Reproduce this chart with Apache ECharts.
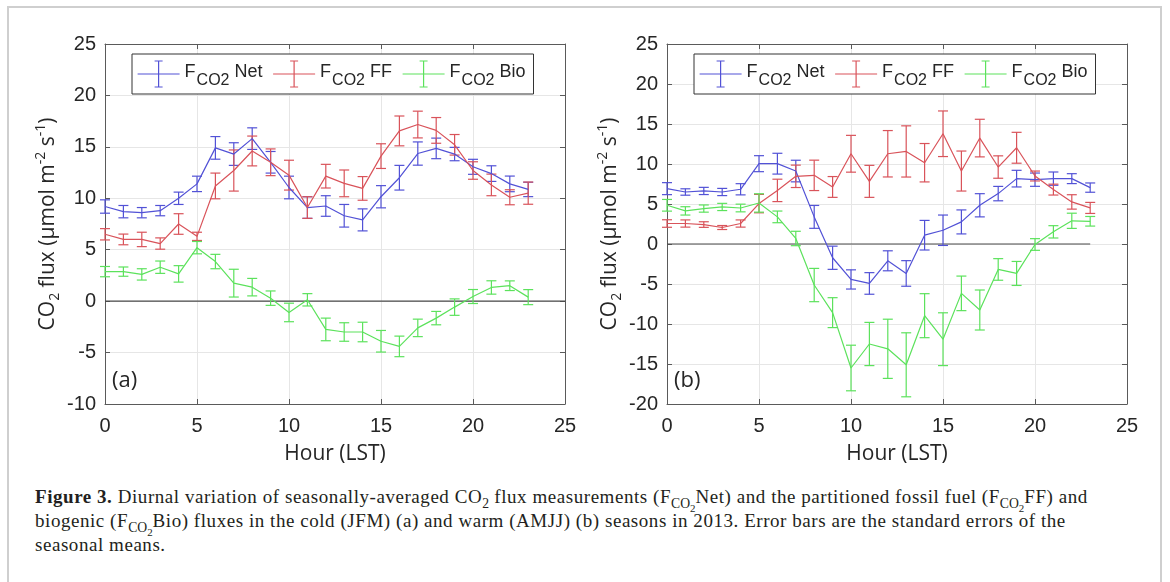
<!DOCTYPE html>
<html>
<head>
<meta charset="utf-8">
<script src="https://cdn.jsdelivr.net/npm/echarts@6/dist/echarts.min.js"></script>
<style>
  html, body { margin: 0; padding: 0; background: #fff; overflow: hidden; }
  #frame { position: absolute; left: 7px; top: 6px; width: 1151px; height: 620px; border: 2px solid #cfcfcf; }
  #chart { position: absolute; left: 0; top: 0; width: 1170px; height: 470px; }
  #caption { position: absolute; left: 35px; top: 485px; width: 1125px; font-family: "Liberation Serif", serif;
    font-size: 19px; letter-spacing: 0.55px; line-height: 24px; color: #231f20; white-space: nowrap; }
  #caption sub { font-size: 72%; line-height: 0; letter-spacing: 0; }
  #caption sub sub { font-size: 80%; }
</style>
</head>
<body>
<div id="frame"></div>
<div id="chart"></div>
<div id="caption"><b>Figure 3.</b> Diurnal variation of seasonally-averaged CO<sub>2</sub> flux measurements (F<sub>CO<sub>2</sub></sub>Net) and the partitioned fossil fuel (F<sub>CO<sub>2</sub></sub>FF) and<br>biogenic (F<sub>CO<sub>2</sub></sub>Bio) fluxes in the cold (JFM) (a) and warm (AMJJ) (b) seasons in 2013. Error bars are the standard errors of the<br>seasonal means.</div>
<script>
const hours = [0, 1, 2, 3, 4, 5, 6, 7, 8, 9, 10, 11, 12, 13, 14, 15, 16, 17, 18, 19, 20, 21, 22, 23];
const seriesNames = ['Net', 'FF', 'Bio'];

// (a) cold season, JFM
const aNet = [9.2, 8.7, 8.6, 8.8, 10.0, 11.4, 14.9, 14.3, 15.8, 13.5, 11.05, 9.1, 9.25, 8.3, 7.9, 10.15, 12.0, 14.35, 14.85, 14.3, 13.06, 12.4, 11.4, 10.86];
const aNetErr = [0.65, 0.6, 0.5, 0.5, 0.6, 0.75, 1.1, 1.1, 1.05, 1.05, 1.1, 1.05, 1.0, 1.1, 1.07, 1.08, 1.2, 1.13, 1.0, 0.65, 0.73, 0.76, 0.76, 0.7];
const aFF = [6.5, 6.0, 6.0, 5.6, 7.5, 6.3, 11.2, 12.7, 14.6, 13.5, 12.25, 9.1, 12.15, 11.45, 10.96, 14.1, 16.55, 17.17, 16.6, 15.2, 12.7, 11.3, 10.1, 10.5];
const aFFErr = [0.55, 0.52, 0.7, 0.55, 1.0, 0.4, 1.25, 2.0, 1.45, 1.3, 1.45, 1.05, 1.15, 1.3, 1.15, 1.2, 1.45, 1.3, 1.25, 1.0, 0.85, 1.05, 0.73, 1.08];
const aBio = [2.87, 2.87, 2.6, 3.3, 2.65, 5.2, 3.85, 1.75, 1.36, 0.29, -1.1, 0.13, -2.75, -3.0, -3.0, -3.9, -4.4, -2.6, -1.65, -0.58, 0.45, 1.33, 1.5, 0.39];
const aBioErr = [0.5, 0.45, 0.55, 0.6, 0.8, 0.6, 0.7, 1.35, 0.85, 0.7, 0.9, 0.6, 1.1, 0.9, 0.95, 1.05, 1.0, 0.85, 0.65, 0.8, 0.68, 0.65, 0.47, 0.73];

// (b) warm season, AMJJ
const bNet = [6.92, 6.5, 6.63, 6.5, 6.84, 10.04, 10.04, 9.12, 3.39, -1.72, -4.43, -4.93, -2.1, -3.68, 1.1, 1.72, 2.76, 4.84, 6.3, 8.17, 8.04, 8.17, 8.17, 7.05];
const bNetErr = [0.75, 0.4, 0.45, 0.45, 0.7, 1.0, 1.3, 1.35, 1.43, 1.45, 1.2, 1.35, 1.25, 1.6, 1.85, 1.9, 1.5, 1.45, 0.9, 1.04, 0.83, 0.83, 0.62, 0.58];
const bFF = [2.56, 2.56, 2.43, 2.06, 2.56, 5.05, 6.7, 8.46, 8.58, 7.13, 11.28, 7.83, 11.28, 11.57, 10.16, 13.78, 9.12, 13.24, 9.62, 12.03, 8.5, 6.8, 5.26, 4.51];
const bFFErr = [0.47, 0.45, 0.35, 0.25, 0.45, 1.15, 1.4, 1.4, 1.9, 1.3, 2.3, 2.0, 2.9, 3.2, 2.4, 2.85, 2.5, 2.35, 1.4, 1.93, 0.62, 0.68, 0.9, 0.69];
const bBio = [4.84, 4.14, 4.43, 4.63, 4.5, 5.13, 3.39, 0.69, -5.13, -8.58, -15.5, -12.5, -13.1, -15.1, -8.96, -11.9, -6.17, -8.25, -3.18, -3.68, -0.06, 1.52, 2.9, 2.84];
const bBioErr = [0.73, 0.52, 0.45, 0.45, 0.48, 1.15, 0.73, 0.9, 2.08, 1.87, 2.85, 2.7, 3.7, 4.0, 2.75, 3.3, 2.16, 2.5, 1.35, 1.5, 0.73, 0.77, 0.95, 0.6];

// axis ranges and zero reference lines
const xTicks = [0, 25, 5];
const aYRange = [-10, 25];
const bYRange = [-20, 25];
const aZeroLine = [[0, 0], [25, 0]];
const bZeroLine = [[0, 0], [23, 0]];

const colors = { Net: '#5252d6', FF: '#d9535a', Bio: '#5ce25c' };
const axisColor = '#5a5a5a';
const textColor = '#262626';
const grids = [
  { left: 105, top: 44, width: 460, height: 360 },
  { left: 667, top: 44, width: 460, height: 360 }
];

var chart = echarts.init(document.getElementById('chart'), null, { renderer: 'canvas' });

function xAxes(gi) {
  return [
    {
      type: 'value', gridIndex: gi, min: xTicks[0], max: xTicks[1], interval: xTicks[2],
      name: 'Hour (LST)', nameLocation: 'middle', nameGap: 40,
      nameTextStyle: { fontFamily: 'Open Sans', fontSize: 21, color: textColor },
      axisLine: { onZero: false, lineStyle: { color: axisColor } },
      axisTick: { inside: true, length: 5, lineStyle: { color: axisColor } },
      axisLabel: { fontFamily: 'Liberation Sans', fontSize: 20, color: textColor, margin: 12 },
      splitLine: { show: true, lineStyle: { color: '#e6e6e6' } }
    },
    {
      type: 'value', gridIndex: gi, position: 'top', min: xTicks[0], max: xTicks[1], interval: xTicks[2],
      axisLine: { onZero: false, lineStyle: { color: axisColor } },
      axisTick: { inside: true, length: 5, lineStyle: { color: axisColor } },
      axisLabel: { show: false }, splitLine: { show: false }
    }
  ];
}

function yAxes(gi, range) {
  return [
    {
      type: 'value', gridIndex: gi, min: range[0], max: range[1], interval: 5,
      name: 'CO{s|2} flux (μmol m{p|-2} s{p|-1})', nameLocation: 'middle', nameGap: 43, nameRotate: 90,
      nameTextStyle: {
        fontFamily: 'Open Sans', fontSize: 21, color: textColor,
        rich: {
          s: { fontFamily: 'Open Sans', fontSize: 14, color: textColor, verticalAlign: 'bottom', padding: [14, 0, 0, 0] },
          p: { fontFamily: 'Open Sans', fontSize: 14, color: textColor, verticalAlign: 'top', padding: [0, 0, 10, 0] }
        }
      },
      axisLine: { show: true, onZero: false, lineStyle: { color: axisColor } },
      axisTick: { show: true, inside: true, length: 5, lineStyle: { color: axisColor } },
      axisLabel: { fontFamily: 'Liberation Sans', fontSize: 20, color: textColor, margin: 9 },
      splitLine: { show: true, lineStyle: { color: '#e6e6e6' } }
    },
    {
      type: 'value', gridIndex: gi, position: 'right', min: range[0], max: range[1], interval: 5,
      axisLine: { show: true, onZero: false, lineStyle: { color: axisColor } },
      axisTick: { show: true, inside: true, length: 5, lineStyle: { color: axisColor } },
      axisLabel: { show: false }, splitLine: { show: false }
    }
  ];
}

function lineSeries(name, gi, values) {
  return {
    type: 'line', name: name, xAxisIndex: gi * 2, yAxisIndex: gi * 2,
    data: hours.map((h, i) => [h, values[i]]),
    symbol: 'none', lineStyle: { color: colors[name], width: 1.2 },
    itemStyle: { color: colors[name] }, z: 3, animation: false
  };
}

function errorSeries(name, gi, values, errs) {
  const color = colors[name];
  return {
    type: 'custom', name: name + ' error', xAxisIndex: gi * 2, yAxisIndex: gi * 2,
    data: hours.map((h, i) => [h, values[i] - errs[i], values[i] + errs[i]]),
    encode: { x: 0, y: [1, 2] },
    renderItem: function (params, api) {
      const lo = api.coord([api.value(0), api.value(1)]);
      const hi = api.coord([api.value(0), api.value(2)]);
      const w = 5;
      const st = { stroke: color, lineWidth: 1.2 };
      return {
        type: 'group',
        children: [
          { type: 'line', shape: { x1: lo[0], y1: lo[1], x2: hi[0], y2: hi[1] }, style: st },
          { type: 'line', shape: { x1: lo[0] - w, y1: lo[1], x2: lo[0] + w, y2: lo[1] }, style: st },
          { type: 'line', shape: { x1: hi[0] - w, y1: hi[1], x2: hi[0] + w, y2: hi[1] }, style: st }
        ]
      };
    },
    z: 3, animation: false
  };
}

function zeroSeries(gi, pts) {
  return {
    type: 'line', name: 'zero', xAxisIndex: gi * 2, yAxisIndex: gi * 2, data: pts,
    symbol: 'none', lineStyle: { color: '#4a4a4a', width: 1.2 }, z: 2, animation: false, silent: true
  };
}

function legendFor(left) {
  return {
    data: seriesNames.map(n => ({
      name: n,
      icon: 'path://M0,13L42,13M21,0L21,26M17,0L25,0M17,26L25,26',
      itemStyle: { color: 'rgba(0,0,0,0)', borderColor: colors[n], borderWidth: 1.2 }
    })),
    left: left, top: 54, orient: 'horizontal',
    backgroundColor: '#fff', borderColor: '#333', borderWidth: 1, padding: [5, 8, 5, 5],
    itemGap: 10, itemWidth: 42, itemHeight: 26,
    formatter: function (name) { return '{f|F}{s|CO2}{n| ' + name + '}'; },
    textStyle: {
      color: textColor,
      rich: {
        f: { fontFamily: 'Liberation Sans', fontSize: 18, color: textColor, lineHeight: 30, verticalAlign: 'top', padding: [4, 0, 0, 0] },
        s: { fontFamily: 'Liberation Sans', fontSize: 16, color: textColor, lineHeight: 30, verticalAlign: 'bottom', padding: [0, 0, 0, 1] },
        n: { fontFamily: 'Liberation Sans', fontSize: 18, color: textColor, lineHeight: 30, verticalAlign: 'top', padding: [4, 0, 0, 0] }
      }
    },
    selectedMode: false
  };
}

const option = {
  animation: false,
  grid: grids,
  xAxis: xAxes(0).concat(xAxes(1)),
  yAxis: yAxes(0, aYRange).concat(yAxes(1, bYRange)),
  legend: [legendFor(132), legendFor(694)],
  graphic: [
    { type: 'text', left: 112, top: 370, style: { text: '(a)', fontFamily: 'Open Sans', fontSize: 22, fill: textColor } },
    { type: 'text', left: 674, top: 370, style: { text: '(b)', fontFamily: 'Open Sans', fontSize: 22, fill: textColor } }
  ],
  series: [
    zeroSeries(0, aZeroLine),
    lineSeries('Net', 0, aNet), errorSeries('Net', 0, aNet, aNetErr),
    lineSeries('FF', 0, aFF), errorSeries('FF', 0, aFF, aFFErr),
    lineSeries('Bio', 0, aBio), errorSeries('Bio', 0, aBio, aBioErr),
    zeroSeries(1, bZeroLine),
    lineSeries('Net', 1, bNet), errorSeries('Net', 1, bNet, bNetErr),
    lineSeries('FF', 1, bFF), errorSeries('FF', 1, bFF, bFFErr),
    lineSeries('Bio', 1, bBio), errorSeries('Bio', 1, bBio, bBioErr)
  ]
};

chart.setOption(option);
</script>
</body>
</html>
